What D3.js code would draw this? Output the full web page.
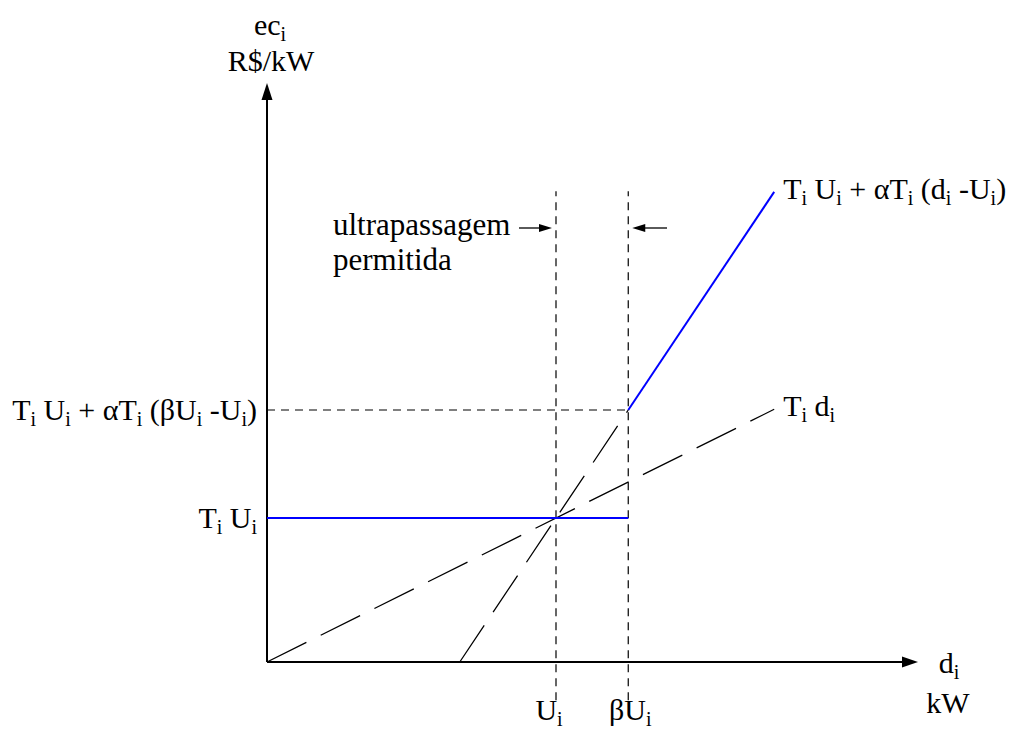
<!DOCTYPE html>
<html>
<head>
<meta charset="utf-8">
<script src="https://cdn.jsdelivr.net/npm/d3@7"></script>
<style>
  html, body { margin: 0; padding: 0; background: #fff; }
  svg text { font-family: "Liberation Serif", "Times New Roman", serif; fill: #000; }
</style>
</head>
<body>
<svg id="chart" width="1009" height="731"></svg>
<script>
// Demand (x, in units of U_i) and cost (y, in units of T_i U_i)
const demandTicks = [1, 1.25];                 // U_i, βU_i
const demandTickLabels = ["U_i", "βU_i"];
const costTicks = [1, 1.75];                   // T_i U_i, T_i U_i + αT_i(βU_i - U_i)
const costTickLabels = ["T_i U_i", "T_i U_i + αT_i (βU_i -U_i)"];

// Cost curves (demand, cost)
const flatCost    = [[0, 1], [1.25, 1]];
const penaltyCost = [[1.25, 1.75], [1.755, 3.265]];
const linearCost  = [[0, 0], [1.755, 1.755]];
const steepCost   = [[0.667, 0], [1.25, 1.75]];
const levelGuide  = [[0, 1.75], [1.25, 1.75]];
const guideSpan   = [-0.265, 3.27];

const curveLabels = [
  { at: [1.755, 3.265], text: "T_i U_i + αT_i (d_i -U_i)" },
  { at: [1.755, 1.755], text: "T_i d_i" }
];

const FS = 30, SUB = 20, SHIFT = 6;
const x = d3.scaleLinear().domain([0, 2.2526]).range([267, 918]);
const y = d3.scaleLinear().domain([0, 4.021]).range([662, 83]);

const svg = d3.select("#chart");
const line = d3.line().x(d => x(d[0])).y(d => y(d[1]));

// Writes a label where "_c" marks a subscript character
function richText(sel, str) {
  const parts = str.split(/(_.)/).filter(s => s.length);
  let lowered = false;
  parts.forEach(p => {
    if (p[0] === "_") {
      sel.append("tspan").attr("font-size", SUB).attr("dy", SHIFT).text(p.slice(1));
      lowered = true;
    } else {
      sel.append("tspan").attr("dy", lowered ? -SHIFT : 0).text(p);
      lowered = false;
    }
  });
  return sel;
}

// Axes
const xMax = x.domain()[1], yMax = y.domain()[1];
svg.append("path")
  .attr("d", line([[0, 0], [0, y.invert(y(yMax) + 16)]]))
  .attr("stroke", "#000").attr("stroke-width", 2).attr("fill", "none");
svg.append("path")
  .attr("d", line([[0, 0], [x.invert(x(xMax) - 15), 0]]))
  .attr("stroke", "#000").attr("stroke-width", 2).attr("fill", "none");
// arrowheads
svg.append("path")
  .attr("d", `M${x(0)},${y(yMax)} L${x(0) - 5.5},${y(yMax) + 17} L${x(0) + 5.5},${y(yMax) + 17} Z`)
  .attr("fill", "#000");
svg.append("path")
  .attr("d", `M${x(xMax)},${y(0)} L${x(xMax) - 16},${y(0) - 5.5} L${x(xMax) - 16},${y(0) + 5.5} Z`)
  .attr("fill", "#000");

// Axis titles
const yTitle = svg.append("text").attr("x", x(0) + 3).attr("y", 35)
  .attr("text-anchor", "middle").attr("font-size", FS);
richText(yTitle, "ec_i");
svg.append("text").attr("x", x(0) + 4).attr("y", 71)
  .attr("text-anchor", "middle").attr("font-size", FS).text("R$/kW");
const xTitle = svg.append("text").attr("x", x(xMax) + 31).attr("y", 673)
  .attr("text-anchor", "middle").attr("font-size", FS);
richText(xTitle, "d_i");
svg.append("text").attr("x", x(xMax) + 30).attr("y", 713)
  .attr("text-anchor", "middle").attr("font-size", FS).text("kW");

// Vertical guides at U_i and βU_i
svg.selectAll(".vguide").data(demandTicks).join("path")
  .attr("class", "vguide")
  .attr("d", d => line([[d, guideSpan[0]], [d, guideSpan[1]]]))
  .attr("stroke", "#000").attr("stroke-width", 1.2)
  .attr("stroke-dasharray", "8,6").attr("fill", "none");

// Horizontal guide at the tolerance cost level
svg.append("path").attr("d", line(levelGuide))
  .attr("stroke", "#000").attr("stroke-width", 1.2)
  .attr("stroke-dasharray", "8,6").attr("fill", "none");

// Long-dashed reference lines
[linearCost, steepCost].forEach(seg => {
  svg.append("path").attr("d", line(seg))
    .attr("stroke", "#000").attr("stroke-width", 1.3)
    .attr("stroke-dasharray", "44,16").attr("fill", "none");
});

// Billed cost (blue)
[flatCost, penaltyCost].forEach(seg => {
  svg.append("path").attr("d", line(seg))
    .attr("stroke", "#0000ff").attr("stroke-width", 2).attr("fill", "none");
});

// Demand tick labels
demandTicks.forEach((d, i) => {
  const t = svg.append("text").attr("x", x(d) - 7 + i * 9).attr("y", 720)
    .attr("text-anchor", "middle").attr("font-size", FS);
  richText(t, demandTickLabels[i]);
});

// Cost tick labels
costTicks.forEach((c, i) => {
  const t = svg.append("text").attr("x", x(0) - 10).attr("y", y(c) + 10)
    .attr("text-anchor", "end").attr("font-size", FS);
  richText(t, costTickLabels[i]);
});

// Curve labels
curveLabels.forEach(l => {
  const t = svg.append("text").attr("x", x(l.at[0]) + 9).attr("y", y(l.at[1]) + 7)
    .attr("text-anchor", "start").attr("font-size", FS);
  richText(t, l.text);
});

// Allowed overrun annotation
svg.append("text").attr("x", 333).attr("y", 235).attr("font-size", FS + 1).text("ultrapassagem");
svg.append("text").attr("x", 333).attr("y", 270).attr("font-size", FS + 1).text("permitida");
const arrowY = 228;
function arrow(x1, x2) {
  const dir = Math.sign(x2 - x1);
  svg.append("line").attr("x1", x1).attr("x2", x2 - dir * 10).attr("y1", arrowY).attr("y2", arrowY)
    .attr("stroke", "#000").attr("stroke-width", 1.3);
  svg.append("path")
    .attr("d", `M${x2},${arrowY} L${x2 - dir * 13},${arrowY - 4} L${x2 - dir * 13},${arrowY + 4} Z`)
    .attr("fill", "#000");
}
arrow(519, x(demandTicks[0]) - 4);
arrow(667, x(demandTicks[1]) + 4);
</script>
</body>
</html>
